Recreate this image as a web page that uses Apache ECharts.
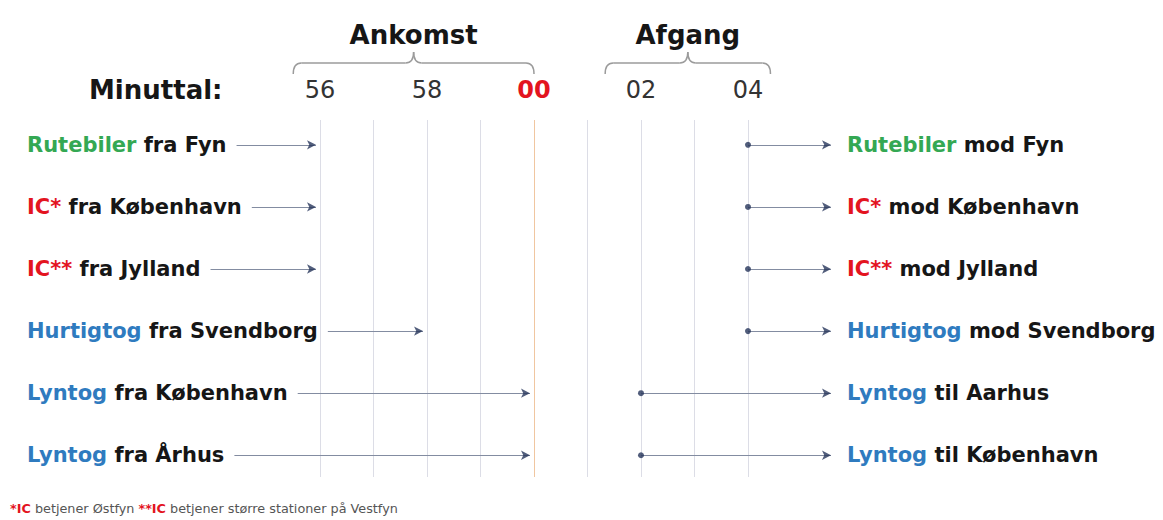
<!DOCTYPE html>
<html><head><meta charset="utf-8">
<script src="https://cdn.jsdelivr.net/npm/echarts/dist/echarts.min.js"></script>
<style>html,body{margin:0;padding:0;background:#fff}#c{width:1163px;height:520px}</style>
</head><body><div id="c"></div>
<script>
// ---- data ----
const tickMinutes = [56, 57, 58, 59, 0, 1, 2, 3, 4];
const tickLabels = ['56', '', '58', '', '00', '', '02', '', '04'];
const arrivalModes = ['Rutebiler', 'IC*', 'IC**', 'Hurtigtog', 'Lyntog', 'Lyntog'];
const arrivalText = [' fra Fyn', ' fra København', ' fra Jylland', ' fra Svendborg', ' fra København', ' fra Århus'];
const arrivalMinute = [56, 56, 56, 58, 0, 0];
const departureModes = ['Rutebiler', 'IC*', 'IC**', 'Hurtigtog', 'Lyntog', 'Lyntog'];
const departureText = [' mod Fyn', ' mod København', ' mod Jylland', ' mod Svendborg', ' til Aarhus', ' til København'];
const departureMinute = [4, 4, 4, 4, 2, 2];
const groupTitles = ['Ankomst', 'Afgang'];
const axisTitle = 'Minuttal:';
const footParts = [['*IC', 'r'], [' betjener Østfyn ', 'g'], ['**IC', 'r'], [' betjener større stationer på Vestfyn', 'g']];

// ---- style ----
const FONT = '"DejaVu Sans", Verdana, sans-serif';
const modeColor = { 'Rutebiler': '#34a853', 'IC*': '#e3141f', 'IC**': '#e3141f', 'Hurtigtog': '#2f7bbf', 'Lyntog': '#2f7bbf' };
const TEXT = '#161616';
const NAVY = '#26355a';
const LINE = '#838ca1';
const LABEL_SIZE = 21;

const rel = m => (m >= 30 ? m - 60 : m);
const relTicks = tickMinutes.map(rel);

const chart = echarts.init(document.getElementById('c'), null, { renderer: 'svg' });

const base = {
  backgroundColor: '#fff',
  animation: false,
  grid: { left: 320, right: 415, top: 120, bottom: 43, outerBoundsMode: 'none' },
  xAxis: {
    type: 'value', position: 'top', min: -4, max: 4, interval: 1,
    axisLine: { show: false }, axisTick: { show: false },
    splitLine: { show: true, showMinLine: true, showMaxLine: true,
      lineStyle: { width: 1, color: tickMinutes.map(m => (m === 0 ? '#f0c6a0' : '#dcdde6')) } },
    axisLabel: {
      margin: 18,
      formatter: v => {
        const i = relTicks.indexOf(Math.round(v));
        const t = i < 0 ? '' : tickLabels[i];
        if (!t) return '';
        return tickMinutes[i] === 0 ? '{hl|' + t + '}' : '{n|' + t + '}';
      },
      rich: {
        n: { fontFamily: FONT, fontSize: 24, color: '#333' },
        hl: { fontFamily: FONT, fontSize: 24, fontWeight: 'bold', color: '#e3141f' }
      }
    }
  },
  yAxis: { type: 'value', inverse: true, min: -0.4, max: 5.35, show: false, splitLine: { show: false } },
  series: []
};
chart.setOption(base);

const ctx = document.createElement('canvas').getContext('2d');
ctx.font = 'bold ' + LABEL_SIZE + 'px ' + FONT;
const measure = s => ctx.measureText(s).width;
const toPx = (x, y) => chart.convertToPixel({ gridIndex: 0 }, [x, y]);
const toX = px => chart.convertFromPixel({ gridIndex: 0 }, [px, 0])[0];

const LEFT_X = 27, GAP = 10, HEAD = 4;
const RIGHT_END_PX = 835, RIGHT_LABEL_X = 847;

const lineData = [], headData = [], dotData = [], graphics = [];
const richLabel = {
  g: { fontFamily: FONT, fontSize: LABEL_SIZE, fontWeight: 'bold', fill: modeColor['Rutebiler'] },
  r: { fontFamily: FONT, fontSize: LABEL_SIZE, fontWeight: 'bold', fill: modeColor['IC*'] },
  b: { fontFamily: FONT, fontSize: LABEL_SIZE, fontWeight: 'bold', fill: modeColor['Lyntog'] },
  t: { fontFamily: FONT, fontSize: LABEL_SIZE, fontWeight: 'bold', fill: TEXT }
};
const key = m => (modeColor[m] === modeColor['Rutebiler'] ? 'g' : modeColor[m] === modeColor['IC*'] ? 'r' : 'b');

arrivalModes.forEach((m, i) => {
  const y = toPx(0, i)[1];
  const w = measure(m + arrivalText[i]);
  const tail = toX(LEFT_X + w + GAP);
  const endPx = toPx(rel(arrivalMinute[i]), i)[0];
  const endV = toX(endPx - HEAD);
  lineData.push({ coords: [[tail, i], [endV, i]] });
  headData.push([endV, i]);
  graphics.push({ type: 'text', x: LEFT_X, y: y, style: { text: '{' + key(m) + '|' + m + '}{t|' + arrivalText[i] + '}', rich: richLabel, verticalAlign: 'middle', align: 'left' } });
});
departureModes.forEach((m, i) => {
  const y = toPx(0, i)[1];
  const start = rel(departureMinute[i]);
  const endV = toX(RIGHT_END_PX - HEAD);
  lineData.push({ coords: [[start, i], [endV, i]] });
  headData.push([endV, i]);
  dotData.push([start, i]);
  graphics.push({ type: 'text', x: RIGHT_LABEL_X, y: y, style: { text: '{' + key(m) + '|' + m + '}{t|' + departureText[i] + '}', rich: richLabel, verticalAlign: 'middle', align: 'left' } });
});

// braces + titles
function brace(xv0, xv1, yEnd, yH, yTip) {
  const x0 = toPx(xv0, 0)[0], x1 = toPx(xv1, 0)[0], xm = (x0 + x1) / 2, r = 8;
  const st = { stroke: '#9b9b9b', lineWidth: 1.5, fill: null };
  return [
    { type: 'bezierCurve', shape: { x1: x0, y1: yEnd, cpx1: x0, cpy1: yH, x2: x0 + r, y2: yH }, style: st },
    { type: 'line', shape: { x1: x0 + r, y1: yH, x2: xm - r, y2: yH }, style: st },
    { type: 'bezierCurve', shape: { x1: xm - r, y1: yH, cpx1: xm, cpy1: yH, x2: xm, y2: yTip }, style: st },
    { type: 'bezierCurve', shape: { x1: xm, y1: yTip, cpx1: xm, cpy1: yH, x2: xm + r, y2: yH }, style: st },
    { type: 'line', shape: { x1: xm + r, y1: yH, x2: x1 - r, y2: yH }, style: st },
    { type: 'bezierCurve', shape: { x1: x1 - r, y1: yH, cpx1: x1, cpy1: yH, x2: x1, y2: yEnd }, style: st }
  ];
}
const b1 = brace(-4.5, 0, 74, 63, 52);
const b2 = brace(1.33, 4.42, 74, 63, 52);
const titleX = [(toPx(-4.5, 0)[0] + toPx(0, 0)[0]) / 2, (toPx(1.33, 0)[0] + toPx(4.42, 0)[0]) / 2];
groupTitles.forEach((t, k) => graphics.push({ type: 'text', x: titleX[k], y: 35, style: { text: t, font: 'bold 26px ' + FONT, fill: TEXT, align: 'center', verticalAlign: 'middle' } }));
graphics.push({ type: 'text', x: 89, y: 90, style: { text: axisTitle, font: 'bold 26px ' + FONT, fill: TEXT, align: 'left', verticalAlign: 'middle' } });
graphics.push({ type: 'text', x: 10, y: 508, style: {
  text: footParts.map(p => '{' + p[1] + '|' + p[0] + '}').join(''),
  rich: { r: { fontFamily: FONT, fontSize: 12.8, fontWeight: 'bold', fill: '#e3141f' }, g: { fontFamily: FONT, fontSize: 12.8, fill: '#555' } },
  verticalAlign: 'middle', align: 'left' } });

chart.setOption({
  graphic: { elements: graphics.concat(b1, b2) },
  series: [
    { type: 'lines', coordinateSystem: 'cartesian2d', clip: false, silent: true, z: 3,
      lineStyle: { color: LINE, width: 1.2, opacity: 1 }, symbol: ['none', 'none'], data: lineData },
    { type: 'scatter', clip: false, silent: true, z: 4, symbol: 'arrow', symbolRotate: -90, symbolSize: [7, 9],
      itemStyle: { color: NAVY }, data: headData },
    { type: 'scatter', clip: false, silent: true, z: 4, symbol: 'circle', symbolSize: 6,
      itemStyle: { color: NAVY }, data: dotData }
  ]
});
</script>
</body></html>
